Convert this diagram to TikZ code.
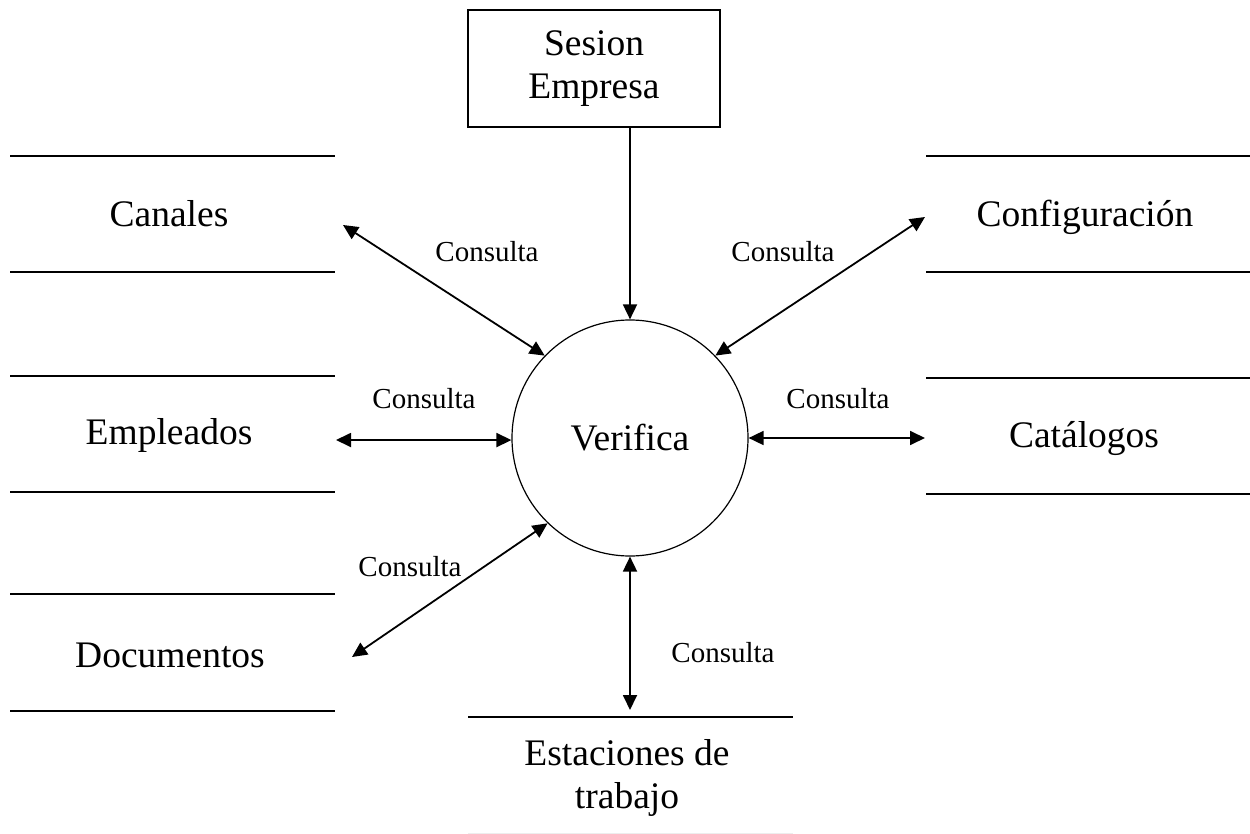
\documentclass[tikz,border=0pt]{standalone}
\usepackage{fontspec}
\setmainfont{Liberation Serif}
\usetikzlibrary{arrows.meta}
\begin{document}
\begin{tikzpicture}[x=1pt,y=-1pt,
  big/.style={font=\fontsize{37.5}{43}\selectfont, align=center, inner sep=0pt},
  lab/.style={font=\fontsize{29}{34}\selectfont, inner sep=0pt},
  tip/.tip={Triangle[length=15pt,width=14pt]},
  flow/.style={line width=1.8pt, -tip},
  bflow/.style={line width=1.8pt, tip-tip},
  storeline/.style={line width=1.6pt}]
\useasboundingbox (0,0) rectangle (1250,834);
% external entity
\node[draw, line width=1.3pt, minimum width=252pt, minimum height=117pt, big] (ses) at (594,68.5) {Sesion\\Empresa};
% process
\node[draw, circle, line width=1.2pt, minimum size=236pt, big] (ver) at (630,438) {Verifica};
% data stores
\draw[storeline] (10,156) -- (335,156) (10,272) -- (335,272);
\node[big] (can) at (169,214) {Canales};
\draw[storeline] (10,376) -- (335,376) (10,492) -- (335,492);
\node[big] (emp) at (169,435) {Empleados};
\draw[storeline] (10,594) -- (335,594) (10,711) -- (335,711);
\node[big] (doc) at (170,655) {Documentos};
\draw[storeline] (926,156) -- (1250,156) (926,272) -- (1250,272);
\node[big] (conf) at (1085,217) {Configuración};
\draw[storeline] (926,378) -- (1250,378) (926,494) -- (1250,494);
\node[big] (cat) at (1084,439) {Catálogos};
\draw[storeline] (468,717) -- (793,717);
\draw[line width=1pt, black!7] (468,833) -- (793,833);
\node[big] (est) at (627,778) {Estaciones de\\trabajo};
% free ends of connectors
\coordinate (canE) at (343,225);
\coordinate (empE) at (336,440);
\coordinate (docE) at (352,657);
\coordinate (confE) at (925,217);
\coordinate (catE) at (925,438);
\coordinate (estE) at (630,710);
% connectors
\draw[flow] (ses.south -| ver.north) -- (ver.north);
\draw[bflow] (canE) -- (ver.136);
\draw[bflow] (empE) -- (ver.181);
\draw[bflow] (docE) -- (ver.226);
\draw[bflow] (confE) -- (ver.44);
\draw[bflow] (catE) -- (ver.east);
\draw[bflow] (ver.south) -- (estE);
% labels
\node[lab] (l1) at (487,252) {Consulta};
\node[lab] (l2) at (783,252) {Consulta};
\node[lab] (l3) at (424,399) {Consulta};
\node[lab] (l4) at (838,399) {Consulta};
\node[lab] (l5) at (410,567) {Consulta};
\node[lab] (l6) at (723,653) {Consulta};
\end{tikzpicture}
\end{document}
